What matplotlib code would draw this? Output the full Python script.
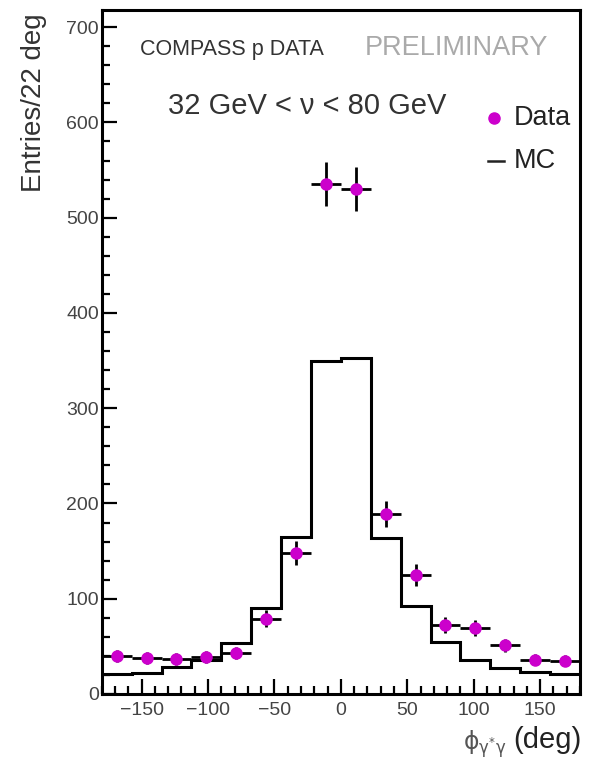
import numpy as np
import matplotlib
matplotlib.use("Agg")
import matplotlib.pyplot as plt
from matplotlib.ticker import MultipleLocator

# bin edges: 16 bins of 22.5 deg
edges = np.linspace(-180, 180, 17)
centers = 0.5 * (edges[:-1] + edges[1:])

# data counts
data = [40, 38, 37, 39, 43, 79, 148, 535, 530, 189, 125, 72, 69, 51, 36, 35]
# MC histogram heights
mc = [21, 22, 28, 36, 54, 90, 165, 350, 353, 164, 92, 55, 36, 27, 23, 21]

plt.rcParams['font.family'] = ['Liberation Sans', 'DejaVu Sans']
plt.rcParams['mathtext.fontset'] = 'dejavusans'

fig = plt.figure(figsize=(5.9, 7.71), dpi=100)
ax = fig.add_axes([0.1725, 0.0999, 0.8105, 0.8871])

# MC as step histogram
ax.stairs(mc, edges, baseline=None, color='black', linewidth=2.2)

# data points with sqrt(N) errors
err = np.sqrt(data)
ax.errorbar(centers, data, xerr=11.25, yerr=err, fmt='o', color='#cc00cc',
            ecolor='black', elinewidth=2.0, capsize=0, markersize=8, zorder=3)

ax.set_xlim(-180, 180)
ax.set_ylim(0, 718)

ax.xaxis.set_major_locator(MultipleLocator(50))
ax.xaxis.set_minor_locator(MultipleLocator(10))
ax.yaxis.set_major_locator(MultipleLocator(100))
ax.yaxis.set_minor_locator(MultipleLocator(20))
ax.tick_params(which='both', direction='in', top=False, right=False, width=1.6,
               labelsize=14, labelcolor='#444444')
ax.tick_params(which='major', length=11)
ax.tick_params(which='minor', length=6)
ax.tick_params(axis='y', pad=2)
ax.tick_params(axis='x', pad=6)
for s in ax.spines.values():
    s.set_linewidth(2.2)

ax.set_ylabel('Entries/22 deg', fontsize=20, color='#333333')
ax.yaxis.set_label_coords(-0.115, 0.865)

# labels in the frame
ax.text(-151, 677, 'COMPASS p DATA', fontsize=15.5, color='#333333', va='center')
ax.text(18, 678, 'PRELIMINARY', fontsize=19.5, color='#aaaaaa', va='center')
ax.text(-130, 617, '32 GeV < ν < 80 GeV', fontsize=21, color='#333333', va='center')

# legend drawn by hand
ax.plot([115.5], [605], 'o', color='#cc00cc', markersize=8)
ax.text(130, 605, 'Data', fontsize=19.5, color='#222222', va='center')
ax.plot([110.5, 122.5], [560, 560], color='#222222', linewidth=1.8)
ax.text(130, 560, 'MC', fontsize=19.5, color='#222222', va='center')

# x axis title
fig.text(0.986, 0.04, '(deg)', fontsize=21, color='#222222', ha='right', va='center')
fig.text(0.858, 0.035, r'$\mathrm{\phi}_{\mathrm{\gamma^{*}\gamma}}$', fontsize=17,
         color='#555555', ha='right', va='center')

fig.savefig('out.png', dpi=100)
